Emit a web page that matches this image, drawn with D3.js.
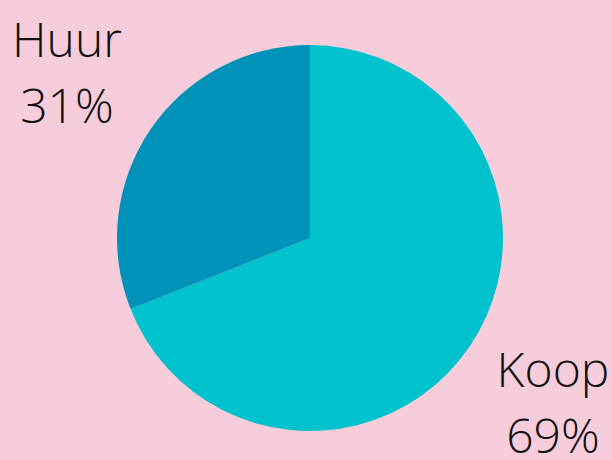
<!DOCTYPE html>
<html>
<head>
<meta charset="utf-8">
<script src="https://cdn.jsdelivr.net/npm/d3@7"></script>
<style>
  body { margin: 0; background: #f8cddb; }
  svg { display: block; }
  .lbl { font-family: "Open Sans", sans-serif; font-weight: 300; font-size: 48px; fill: #111; }
</style>
</head>
<body>
<svg id="chart"></svg>
<script>
let categories = ["Koop", "Huur"];
let values = [69, 31];
let colors = ["#00c2cc", "#0092b8"];

let width = 612, height = 460;
let svg = d3.select("#chart")
    .attr("width", width)
    .attr("height", height);

svg.append("rect")
    .attr("width", width)
    .attr("height", height)
    .attr("fill", "#f8cddb");

let cx = 310, cy = 238, radius = 193;
let g = svg.append("g")
    .attr("transform", "translate(" + cx + "," + cy + ")");

let pie = d3.pie().sort(null);
let arc = d3.arc().innerRadius(0).outerRadius(radius);

g.selectAll(".slice")
    .data(pie(values))
    .enter().append("path")
    .attr("class", "slice")
    .attr("fill", (d, i) => colors[i])
    .attr("d", arc);

// labels sit outside the pie, near the corners
let labelPos = [[553, 387], [67, 57]];
let lines = 66;
categories.forEach(function(c, i) {
    let t = svg.append("text")
        .attr("class", "lbl")
        .attr("text-anchor", "middle")
        .attr("x", labelPos[i][0])
        .attr("y", labelPos[i][1]);
    t.append("tspan").attr("x", labelPos[i][0]).text(c);
    t.append("tspan").attr("x", labelPos[i][0]).attr("dy", lines).text(values[i] + "%");
});
</script>
</body>
</html>
